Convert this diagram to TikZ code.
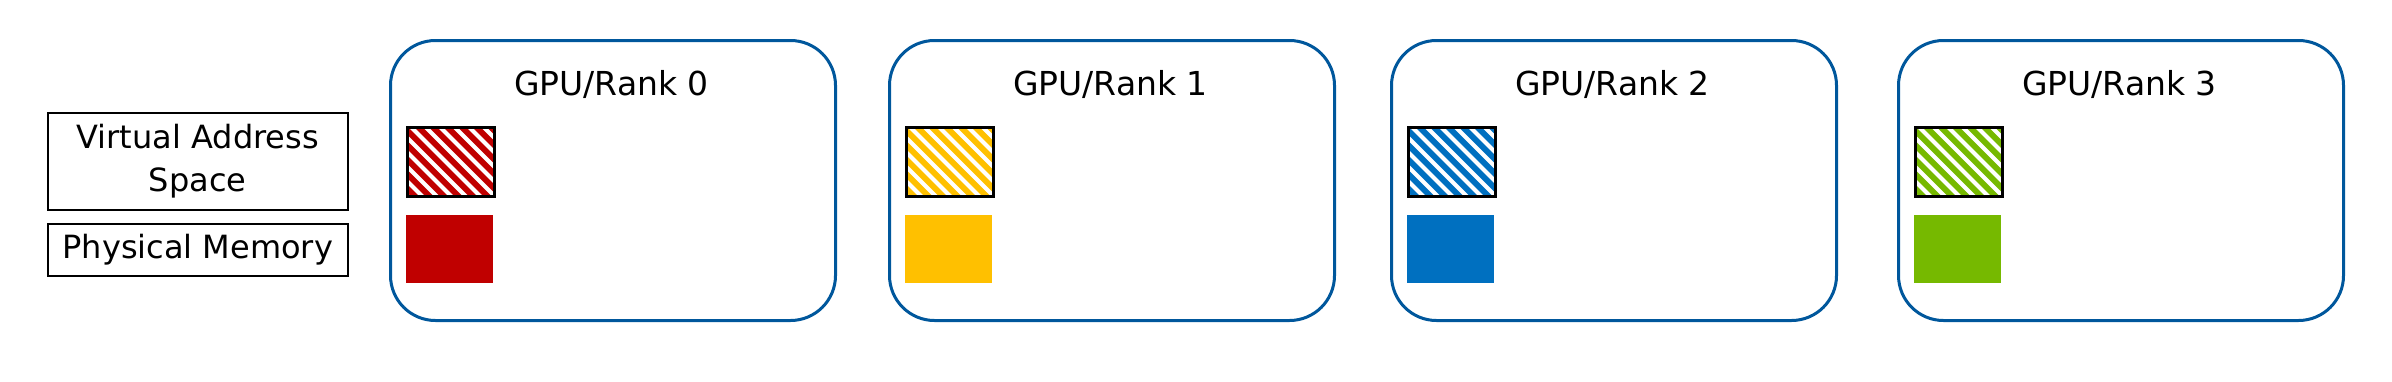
\documentclass[tikz,border=0pt]{standalone}
\usepackage{fontspec}
\setmainfont{DejaVu Sans}
\definecolor{gpublue}{HTML}{00579C}
\definecolor{cred}{HTML}{C00000}
\definecolor{cyellow}{HTML}{FFC000}
\definecolor{cblue}{HTML}{0070C0}
\definecolor{cgreen}{HTML}{76B900}
\tikzset{
  gpubox/.style={draw=gpublue, line width=3pt, rounded corners=45pt, minimum width=445pt, minimum height=280pt, anchor=north west, inner sep=0pt},
  gputitle/.style={anchor=base, inner sep=0pt, font=\fontsize{33}{40}\selectfont},
  vas/.style={draw=black, line width=2.5pt, minimum width=87pt, minimum height=69pt, anchor=north west, inner sep=0pt, fill=#1,
    path picture={\foreach \k in {-6,...,7}{\draw[white,line width=4pt] ([xshift=\k*14.5pt+4pt]path picture bounding box.north west) -- ++(90pt,-90pt);}}},
  pm/.style={minimum width=87pt, minimum height=68pt, anchor=north west, inner sep=0pt, fill=#1},
  legbox/.style={draw=black, line width=1.5pt, minimum width=300pt, anchor=north west, inner sep=0pt, align=center, font=\fontsize{32}{43}\selectfont}
}
\begin{document}
\begin{tikzpicture}[x=1pt,y=-1pt]
\useasboundingbox (0,0) rectangle (2392,381);
\node[legbox, minimum height=97pt] (lva) at (47,112) {Virtual Address\\Space};
\node[legbox, minimum height=52pt] (lpm) at (47,223) {Physical Memory};
\foreach \i/\x/\c in {0/389/cred,1/888/cyellow,2/1390/cblue,3/1897/cgreen}{
  \node[gpubox] (g\i) at (\x,39) {};
  \node[gputitle] (t\i) at (\x+222.5,95) {GPU/Rank \i};
  \node[vas=\c] (v\i) at (\x+17,126) {};
  \node[pm=\c] (p\i) at (\x+17,215) {};
}
\end{tikzpicture}
\end{document}
